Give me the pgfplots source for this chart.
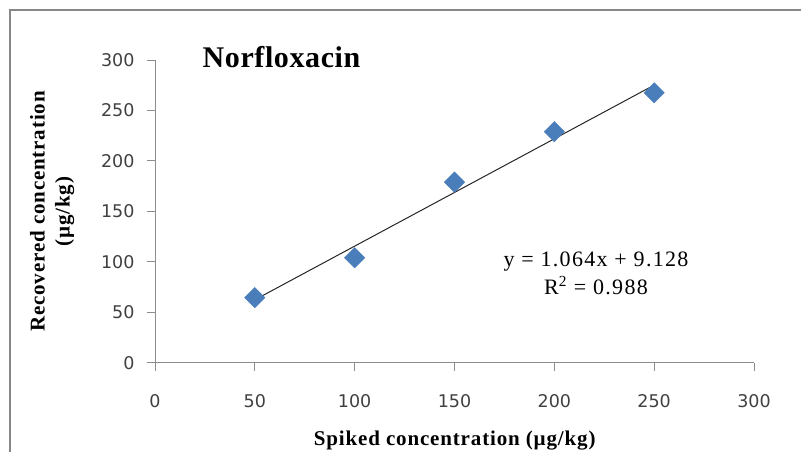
\documentclass[border=0pt]{standalone}
\usepackage{pgfplots}
\pgfplotsset{compat=1.18}
\usepackage{fontspec}
\setmainfont{Liberation Serif}
\newfontfamily\tickfont{DejaVu Sans}
\newfontfamily\labfont{Liberation Serif}[LetterSpace=4]
\newfontfamily\titfont{Liberation Serif}[LetterSpace=2]
\newfontfamily\eqfont{Liberation Serif}[LetterSpace=6]
\definecolor{framegray}{HTML}{878787}
\definecolor{axgray}{HTML}{8C8C8C}
\definecolor{mblue}{HTML}{4A7EBB}
\begin{document}
\begin{tikzpicture}[x=1pt,y=1pt]
\useasboundingbox (0,0) rectangle (801,451);
\draw[framegray, line width=2pt] (10,441) rectangle (840,-30);
\begin{axis}[
  at={(155pt,88.3pt)}, anchor=south west,
  scale only axis, width=599pt, height=302.7pt,
  xmin=0, xmax=300, ymin=0, ymax=300,
  xtick={0,50,...,300}, ytick={0,50,...,300},
  axis x line=bottom, axis y line=left,
  axis line style={axgray, line width=1pt, -},
  tick style={axgray, line width=1pt},
  tick align=outside, major tick length=8pt,
  tick label style={font=\tickfont\fontsize{17.5}{17.5}\selectfont, text=black!75},
  /pgf/number format/assume math mode=true,
  xticklabel style={yshift=-20pt},
  yticklabel style={xshift=-9pt},
  clip=false,
]
\addplot[only marks, mark=square*, mark size=7.2pt,
  mark options={rotate=45, fill=mblue, draw=mblue}]
  coordinates {(50,64.5) (100,104) (150,179) (200,229) (250,267.5)};
\addplot[black!85, line width=1pt] coordinates {(50,62.328) (250,275.128)};
\end{axis}
\node[anchor=base, inner sep=0pt, font=\titfont\bfseries\fontsize{30}{30}\selectfont] at (281.5,383.3) {Norfloxacin};
\node[anchor=base, inner sep=0pt, font=\labfont\bfseries\fontsize{21}{21}\selectfont] at (454.7,6) {Spiked concentration (µg/kg)};
\node[anchor=base, inner sep=0pt, rotate=90, font=\labfont\bfseries\fontsize{21}{21}\selectfont] at (44.6,239.5) {Recovered concentration};
\node[anchor=base, inner sep=0pt, rotate=90, font=\labfont\bfseries\fontsize{21}{21}\selectfont] at (69.6,239.5) {(µg/kg)};
\node[anchor=base, inner sep=0pt, font=\eqfont\fontsize{22}{22}\selectfont] at (596,184.3) {y = 1.064x + 9.128};
\node[anchor=base, inner sep=0pt, font=\eqfont\fontsize{22}{22}\selectfont] at (596,156.7) {R\textsuperscript{2} = 0.988};
\end{tikzpicture}
\end{document}
